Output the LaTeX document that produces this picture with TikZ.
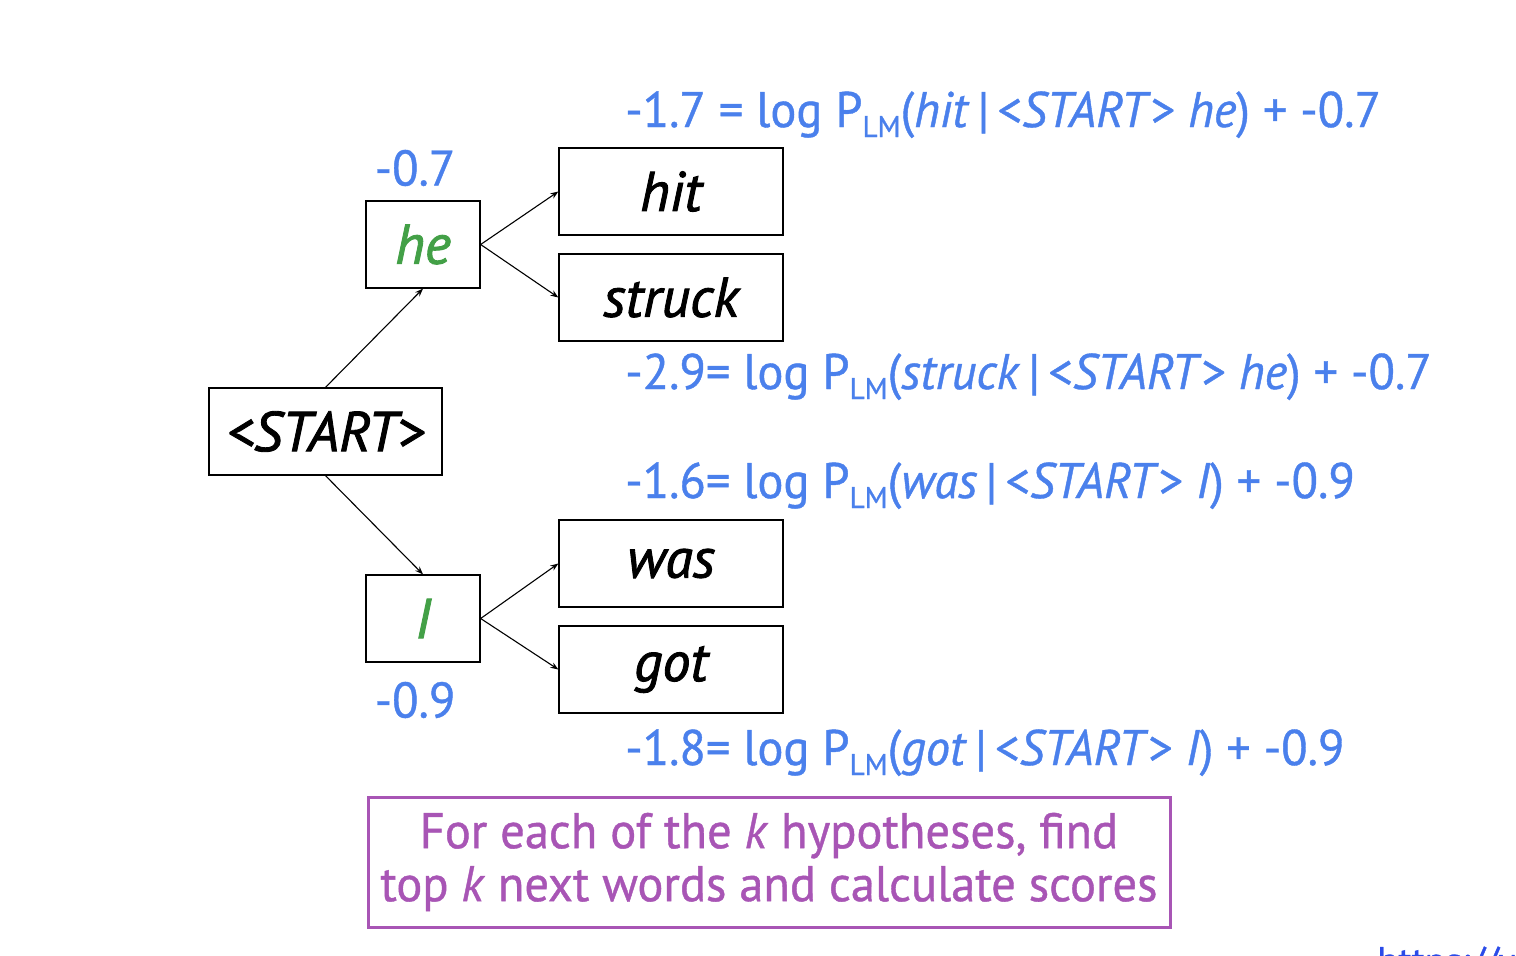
\documentclass[tikz,border=0pt]{standalone}
\usepackage{fontspec}
\setmainfont[FakeStretch=0.97,FakeBold=0.8]{PT Sans}
\newfontfamily\boxfont[FakeBold=1.6]{PT Sans}
\usetikzlibrary{arrows.meta}
\definecolor{lblue}{HTML}{4A80EC}
\definecolor{lgreen}{HTML}{43A047}
\definecolor{lpurple}{HTML}{A855B5}
\definecolor{linkblue}{HTML}{2A4BE8}
\newcommand{\LMsub}{\raisebox{-10pt}{\fontsize{30}{30}\selectfont LM}}
\begin{document}
\begin{tikzpicture}[x=1pt,y=-1pt,
  wordbox/.style={draw, line width=1.3pt, inner sep=0pt, font=\boxfont\fontsize{56}{60}\selectfont\itshape},
  wide/.style={minimum width=224pt, minimum height=87pt},
  narrow/.style={minimum width=114pt, minimum height=87pt},
  score/.style={text=lblue, inner sep=0pt, font=\fontsize{50}{56}\selectfont},
  formula/.style={text=lblue, inner sep=0pt, anchor=base west, font=\fontsize{50}{56}\selectfont},
  conn/.style={line width=1.1pt, -{Stealth[length=8pt,width=6pt]}}]
\useasboundingbox (0,0) rectangle (1516,956);
\fill[white] (0,0) rectangle (1516,956);

\node[wordbox, minimum width=233pt, minimum height=87pt] (start) at (325.5,431.5) {<START>};
\node[wordbox, narrow, text=lgreen] (he) at (423,244.5) {he};
\node[wordbox, narrow, text=lgreen] (I) at (423,618.5) {I};
\node[wordbox, wide] (hit) at (671,191.5) {hit};
\node[wordbox, wide] (struck) at (671,297.5) {struck};
\node[wordbox, wide] (was) at (671,563.5) {was};
\node[wordbox, wide] (got) at (671,669.5) {got};

\node[score] (s1) at (415,168) {-0.7};
\node[score] (s2) at (415,700) {-0.9};

\node[formula] (f1) at (625,127) {-1.7 = log P\LMsub(\textit{hit}\,|\,<\textit{START}> \textit{he}) + -0.7};
\node[formula] (f2) at (625,389) {-2.9= log P\LMsub(\textit{struck}\,|\,<\textit{START}> \textit{he}) + -0.7};
\node[formula] (f3) at (625,498) {-1.6= log P\LMsub(\textit{was}\,|\,<\textit{START}> \textit{I}) + -0.9};
\node[formula] (f4) at (625,765) {-1.8= log P\LMsub(\textit{got}\,|\,<\textit{START}> \textit{I}) + -0.9};

\draw[conn] (start.north) -- (he.south);
\draw[conn] (start.south) -- (I.north);
\draw[conn] (he.east) -- (hit.west);
\draw[conn] (he.east) -- (struck.west);
\draw[conn] (I.east) -- (was.west);
\draw[conn] (I.east) -- (got.west);

\node[draw=lpurple, line width=3pt, text=lpurple, minimum width=802pt, minimum height=130pt, inner sep=0pt, align=center, font=\fontsize{50}{53}\selectfont] (note) at (769,862) {For each of the \textit{k} hypotheses, find\\top \textit{k} next words and calculate scores};

\begin{scope}
\clip (0,0) rectangle (1516,956);
\node[text=linkblue, inner sep=0pt, anchor=base west, font=\fontsize{40}{44}\selectfont] (link) at (1377,975) {https://we};
\end{scope}
\end{tikzpicture}
\end{document}
